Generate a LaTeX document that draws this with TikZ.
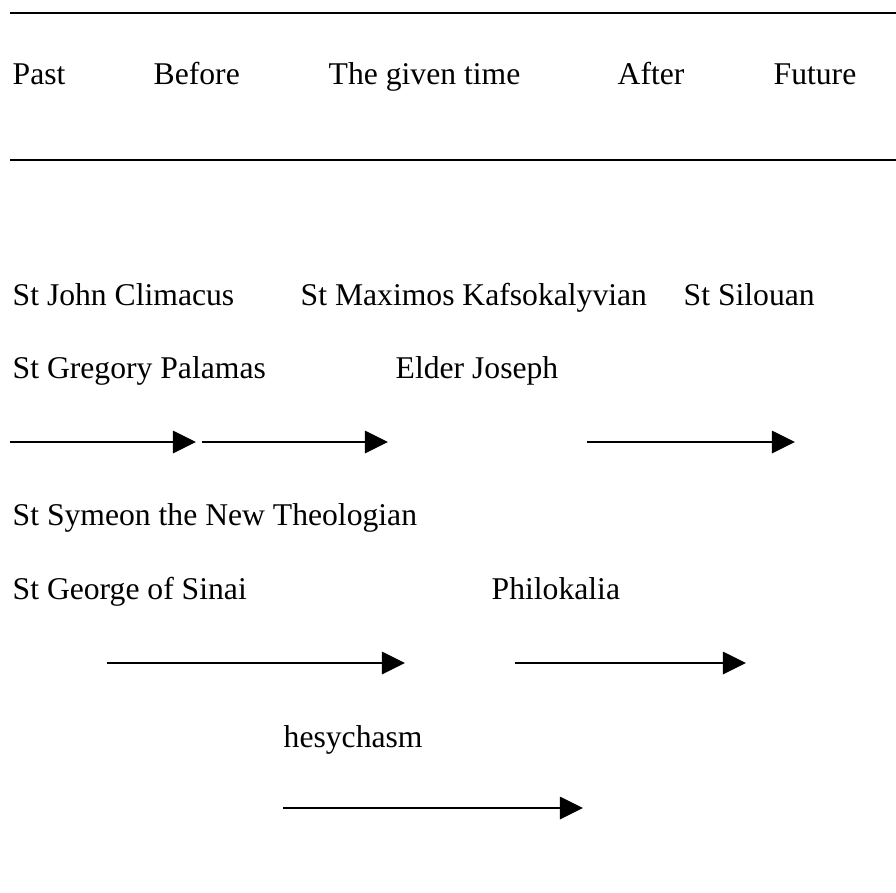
\documentclass[tikz,border=0pt]{standalone}
\usepackage{fontspec}
\setmainfont{Liberation Serif}
\usetikzlibrary{arrows.meta}
\tikzset{
  rule/.style={draw=black, line width=0.45pt},
  flow/.style={draw=black, line width=0.8pt, -{Triangle[length=0.23cm, width=0.22cm]}},
  lab/.style={anchor=base west, inner sep=0pt, font=\fontsize{9}{11}\selectfont},
}
\begin{document}
\begin{tikzpicture}[x=0.01cm, y=-0.01cm]
\useasboundingbox (0,0) rectangle (896,893);

% time header
\coordinate (topl) at (10,13);
\coordinate (topr) at (896,13);
\coordinate (botl) at (10,160);
\coordinate (botr) at (896,160);
\draw[rule] (topl) -- (topr);
\draw[rule] (botl) -- (botr);
\node[lab] (past) at (12,84) {Past};
\node[lab] (before) at (153,84) {Before};
\node[lab] (given) at (328,84) {The given time};
\node[lab] (after) at (617,84) {After};
\node[lab] (future) at (773,84) {Future};

% first group
\node[lab] (climacus) at (12,305) {St John Climacus};
\node[lab] (maximos) at (300,305) {St Maximos Kafsokalyvian};
\node[lab] (silouan) at (683,305) {St Silouan};
\node[lab] (palamas) at (12,378) {St Gregory Palamas};
\node[lab] (elder) at (395,378) {Elder Joseph};
\coordinate (a1s) at (10,442);  \coordinate (a1e) at (196,442);
\coordinate (a2s) at (202,442); \coordinate (a2e) at (388,442);
\coordinate (a3s) at (587,442); \coordinate (a3e) at (795,442);
\draw[flow] (a1s) -- (a1e);
\draw[flow] (a2s) -- (a2e);
\draw[flow] (a3s) -- (a3e);

% second group
\node[lab] (symeon) at (12,525) {St Symeon the New Theologian};
\node[lab] (sinai) at (12,599) {St George of Sinai};
\node[lab] (philokalia) at (491,599) {Philokalia};
\coordinate (b1s) at (107,663); \coordinate (b1e) at (405,663);
\coordinate (b2s) at (515,663); \coordinate (b2e) at (746,663);
\draw[flow] (b1s) -- (b1e);
\draw[flow] (b2s) -- (b2e);

% hesychasm
\node[lab] (hesychasm) at (283,747) {hesychasm};
\coordinate (c1s) at (283,808); \coordinate (c1e) at (583,808);
\draw[flow] (c1s) -- (c1e);
\end{tikzpicture}
\end{document}
